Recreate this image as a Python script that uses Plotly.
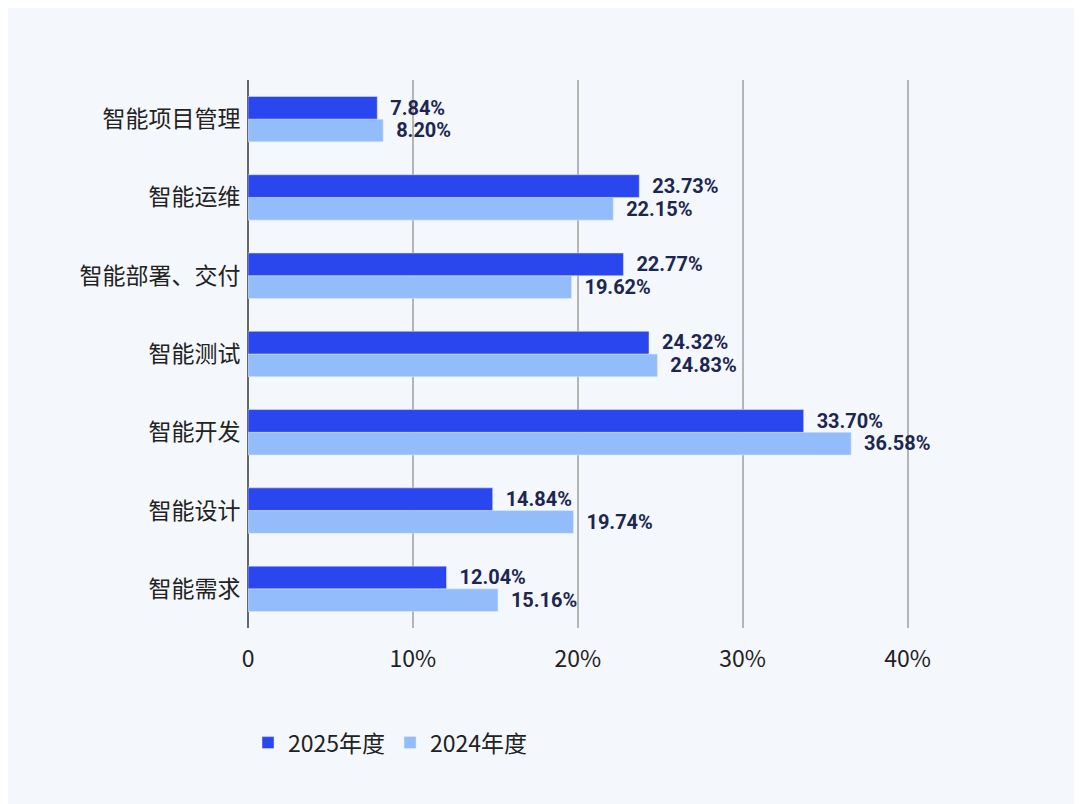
import plotly.graph_objects as go

categories = ["智能需求", "智能设计", "智能开发", "智能测试", "智能部署、交付", "智能运维", "智能项目管理"]
values_2025 = [12.04, 14.84, 33.70, 24.32, 22.77, 23.73, 7.84]
values_2024 = [15.16, 19.74, 36.58, 24.83, 19.62, 22.15, 8.20]

label_font = dict(size=22, color="#1c2750", family="Roboto")

fig = go.Figure()
fig.add_trace(go.Bar(y=categories, x=values_2024, orientation="h", name="2024年度",
                     marker_color="#93bcfa", text=[f"  <b>{v:.2f}%</b>" for v in values_2024],
                     textposition="outside", cliponaxis=False, textfont=label_font))
fig.add_trace(go.Bar(y=categories, x=values_2025, orientation="h", name="2025年度",
                     marker_color="#2a46ee", text=[f"  <b>{v:.2f}%</b>" for v in values_2025],
                     textposition="outside", cliponaxis=False, textfont=label_font))

fig.update_layout(
    width=1082, height=804,
    margin=dict(l=240, r=100, t=72, b=184),
    paper_bgcolor="#f4f7fc", plot_bgcolor="rgba(0,0,0,0)",
    barmode="group", bargap=0.42, bargroupgap=0,
    font=dict(family="Noto Sans CJK SC", size=23, color="#222"),
    legend=dict(orientation="h", traceorder="reversed", x=0, y=-0.17,
                xanchor="left", yanchor="top", font=dict(size=23)),
    showlegend=True,
)
fig.update_xaxes(range=[0, 45], tickvals=[0, 10, 20, 30, 40],
                 ticktext=["0", "10%", "20%", "30%", "40%"],
                 showgrid=True, gridcolor="#b5b5b5", gridwidth=1.5,
                 zeroline=True, zerolinecolor="#666", zerolinewidth=1.5, ticklen=10,
                 ticks="outside", tickcolor="rgba(0,0,0,0)")
fig.update_yaxes(ticklen=2, ticks="outside", tickcolor="rgba(0,0,0,0)")
fig.write_html("out.html")
